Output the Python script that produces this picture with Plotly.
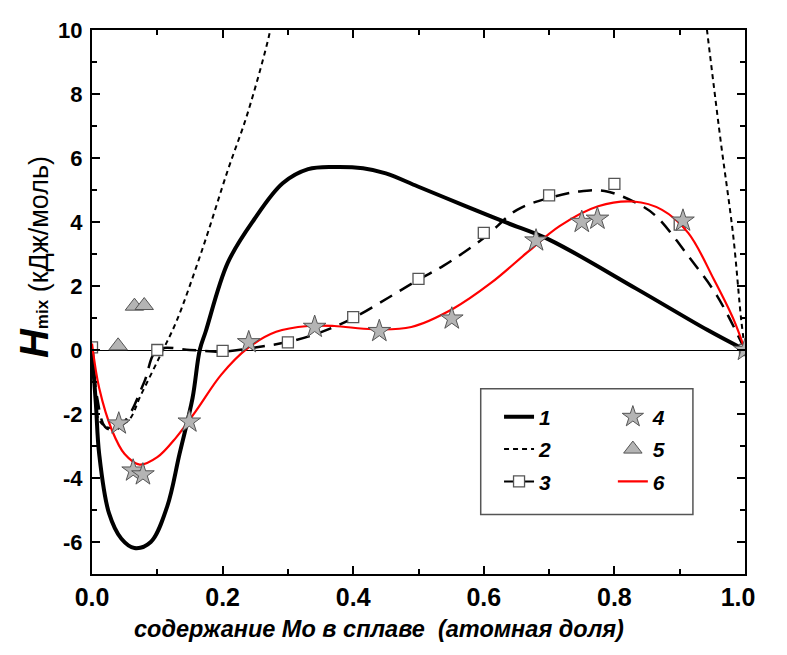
import plotly.graph_objects as go

# ---------------- data ----------------
# curve 1 (thick solid black)
x1 = [0, 0.006, 0.011, 0.026, 0.045, 0.065, 0.09, 0.115, 0.134, 0.154, 0.165, 0.174,
      0.208, 0.248, 0.292, 0.331, 0.37, 0.415, 0.45, 0.499, 0.573, 0.636, 0.70, 0.834, 0.942, 1.0]
y1 = [0, -1.7, -3.25, -5.1, -5.9, -6.19, -6.0, -4.9, -3.25, -1.5, 0, 0.57,
      2.73, 4.07, 5.21, 5.65, 5.72, 5.68, 5.52, 5.11, 4.49, 3.97, 3.45, 1.91, 0.63, 0]

# curve 2 (short dashes), two branches
x2 = [0, 0.004, 0.011, 0.026, 0.055, 0.075, 0.105, 0.129, 0.169, 0.208, 0.238, 0.272, 0.276,
      None, 0.94, 0.962, 0.982, 0.994, 1.0]
y2 = [0, -1.2, -2.2, -2.43, -2.22, -1.4, -0.15, 0.88, 3.15, 5.62, 7.38, 9.9, 10.4,
      None, 10.3, 6.65, 3.56, 0.98, 0]

# curve 3 (long dashes) and its square markers
x3 = [0, 0.008, 0.02, 0.035, 0.055, 0.08, 0.1, 0.15, 0.2, 0.25, 0.3, 0.35, 0.4, 0.455, 0.5,
      0.538, 0.6, 0.651, 0.7, 0.745, 0.785, 0.834, 0.864, 0.913, 0.957, 1.0]
y3 = [0, -1.5, -2.4, -2.5, -2.1, -1.0, 0, 0, -0.05, 0.08, 0.25, 0.55, 1.0, 1.65, 2.2,
      2.63, 3.5, 4.38, 4.75, 4.95, 4.97, 4.59, 4.18, 2.94, 1.7, 0]
x3m = [0, 0.1, 0.2, 0.3, 0.4, 0.5, 0.6, 0.7, 0.8, 0.9, 1.0]
y3m = [0.08, 0, -0.03, 0.24, 1.03, 2.22, 3.66, 4.83, 5.19, 3.92, 0]

# series 4 (stars)
x4 = [0.041, 0.063, 0.078, 0.149, 0.24, 0.341, 0.44, 0.551, 0.68, 0.75, 0.774, 0.905, 1.0]
y4 = [-2.3, -3.77, -3.89, -2.24, 0.24, 0.72, 0.59, 0.98, 3.42, 4.0, 4.1, 4.04, 0]

# series 5 (triangles)
x5 = [0.04, 0.065, 0.08]
y5 = [0.13, 1.37, 1.39]

# curve 6 (red)
x6 = [0, 0.011, 0.031, 0.05, 0.073, 0.1, 0.129, 0.159, 0.198, 0.238, 0.282, 0.331, 0.371,
      0.43, 0.489, 0.553, 0.612, 0.666, 0.716, 0.775, 0.829, 0.873, 0.913, 0.952, 0.982, 1.0]
y6 = [0.2, -1.19, -2.53, -3.25, -3.58, -3.35, -2.73, -1.91, -0.77, 0.05, 0.57, 0.75, 0.75,
      0.65, 0.72, 1.29, 2.11, 3.04, 3.87, 4.49, 4.64, 4.38, 3.66, 2.22, 0.98, 0]

legend_labels = ["1", "2", "3", "4", "5", "6"]
y_ticks = [-6, -4, -2, 0, 2, 4, 6, 8, 10]
x_ticks = [0.0, 0.2, 0.4, 0.6, 0.8, 1.0]
x_ticktext = ["0.0", "0.2", "0.4", "0.6", "0.8", "1.0"]

# ---------------- figure ----------------
OFF = 8  # default page body margin; figure + margins fill the 787x655 window
W, H = 787 - 2 * OFF, 655 - 2 * OFF
ML, MT, PW, PH = 84, 17, 677, 549
MR = W - ML - PW
MB = H - MT - PH


def px2paper(px, py):
    """window pixel -> paper coords"""
    fx, fy = px - OFF, py - OFF
    return (fx - ML) / PW, (MT + PH - fy) / PH


FONT = "Liberation Sans, Arial, sans-serif"
lfont = dict(family=FONT, size=21, color="black")

fig = go.Figure()

SM = 1.0
fig.add_trace(go.Scatter(x=x1, y=y1, mode="lines", line=dict(color="black", width=4, shape="spline", smoothing=SM),
                         name=f"<b><i>{legend_labels[0]}</i></b>", legend="legend", legendrank=1, legendgroup="g1"))
fig.add_trace(go.Scatter(x=x2, y=y2, mode="lines", line=dict(color="black", width=2, dash="5px,4px", shape="spline", smoothing=SM),
                         name=f"<b><i>{legend_labels[1]}</i></b>", legend="legend", legendrank=2, legendgroup="g2",
                         connectgaps=False))
fig.add_trace(go.Scatter(x=x3, y=y3, mode="lines", line=dict(color="black", width=2.5, dash="14px,9px", shape="spline", smoothing=SM),
                         showlegend=False, legendgroup="g3"))
fig.add_trace(go.Scatter(x=x3m, y=y3m, mode="markers",
                         marker=dict(symbol="square", size=11, color="white", line=dict(color="#555", width=1.3)),
                         showlegend=False, legendgroup="g3"))
# legend sample for series 3 (line + square), carries no data
fig.add_trace(go.Scatter(x=[None], y=[None], mode="lines+markers",
                         line=dict(color="black", width=2),
                         marker=dict(symbol="square", size=11, color="white", line=dict(color="#555", width=1.3)),
                         name=f"<b><i>{legend_labels[2]}</i></b>", legend="legend", legendrank=3, legendgroup="g3"))
fig.add_trace(go.Scatter(x=x6, y=y6, mode="lines", line=dict(color="#ff0000", width=2.2, shape="spline", smoothing=SM),
                         name=f"<b><i>{legend_labels[5]}</i></b>", legend="legend2", legendrank=6, legendgroup="g6"))
fig.add_trace(go.Scatter(x=x4, y=y4, mode="markers",
                         marker=dict(symbol="star", size=17, color="#b4b4b4", line=dict(color="#555", width=1)),
                         name=f"<b><i>{legend_labels[3]}</i></b>", legend="legend2", legendrank=4, legendgroup="g4"))
fig.add_trace(go.Scatter(x=x5, y=y5, mode="markers",
                         marker=dict(symbol="triangle-up", size=16, color="#b4b4b4", line=dict(color="#555", width=1)),
                         name=f"<b><i>{legend_labels[4]}</i></b>", legend="legend2", legendrank=5, legendgroup="g5"))

axis_common = dict(showgrid=False, showline=True, linecolor="black", linewidth=2,
                   mirror="ticks", ticks="inside", ticklen=8, tickwidth=1.5, tickcolor="black")

# the last label gets two trailing no-break spaces so it stays inside the figure's right edge
ticktext_x = x_ticktext[:-1] + [x_ticktext[-1] + "\u00a0\u00a0"]
fig.update_xaxes(range=[0, 1], tickvals=x_ticks, ticktext=ticktext_x,
                 tickfont=dict(family=FONT, size=25, color="black", weight="bold"),
                 ticklabeloverflow="allow",
                 minor=dict(dtick=0.1, tick0=0, ticks="inside", ticklen=5, tickwidth=1.5, tickcolor="black"),
                 zeroline=False, **axis_common)
fig.update_yaxes(range=[-7, 10], tickvals=y_ticks, ticktext=[str(v) for v in y_ticks],
                 tickfont=dict(family=FONT, size=22, color="black", weight="bold"),
                 ticklabelstandoff=3,
                 minor=dict(dtick=1, tick0=0, ticks="inside", ticklen=5, tickwidth=1.5, tickcolor="black"),
                 zeroline=True, zerolinecolor="black", zerolinewidth=1.2, **axis_common)

lx1, ly = px2paper(514, 395)
lx2, _ = px2paper(632, 395)
leg_common = dict(font=lfont, bgcolor="rgba(0,0,0,0)", borderwidth=0, xanchor="left", yanchor="top",
                  traceorder="grouped", tracegroupgap=2, itemwidth=30)
fig.update_layout(
    legend=dict(x=lx1, y=ly, **leg_common),
    legend2=dict(x=lx2, y=ly, **leg_common),
)

bx0, by0 = px2paper(495, 514)
bx1, by1 = px2paper(715, 387)
fig.add_shape(type="rect", xref="paper", yref="paper", x0=bx0, y0=by0, x1=bx1, y1=by1,
              line=dict(color="#555", width=1.5), fillcolor="rgba(0,0,0,0)", layer="above")

# axis titles
tx, ty = px2paper(390, 630)
fig.add_annotation(xref="paper", yref="paper", x=tx, y=ty, showarrow=False,
                   xanchor="center", yanchor="middle",
                   text="<b><i>содержание Mo в сплаве  (атомная доля)</i></b>",
                   font=dict(family=FONT, size=23.5, color="black"))
ax, ay = px2paper(32, 254)
fig.add_annotation(xref="paper", yref="paper", x=ax, y=ay, showarrow=False, textangle=-90,
                   xanchor="center", yanchor="middle",
                   text="<b><i><span style='font-size:40px'>H</span></i></b><b><span style='font-size:17px'>mix</span></b> (кДж/моль)",
                   font=dict(family=FONT, size=27, color="black"))

fig.update_layout(width=W, height=H, margin=dict(l=ML, r=MR, t=MT, b=MB),
                  plot_bgcolor="white", paper_bgcolor="white", showlegend=True)

fig.write_html("out.html", config={"displayModeBar": False})
